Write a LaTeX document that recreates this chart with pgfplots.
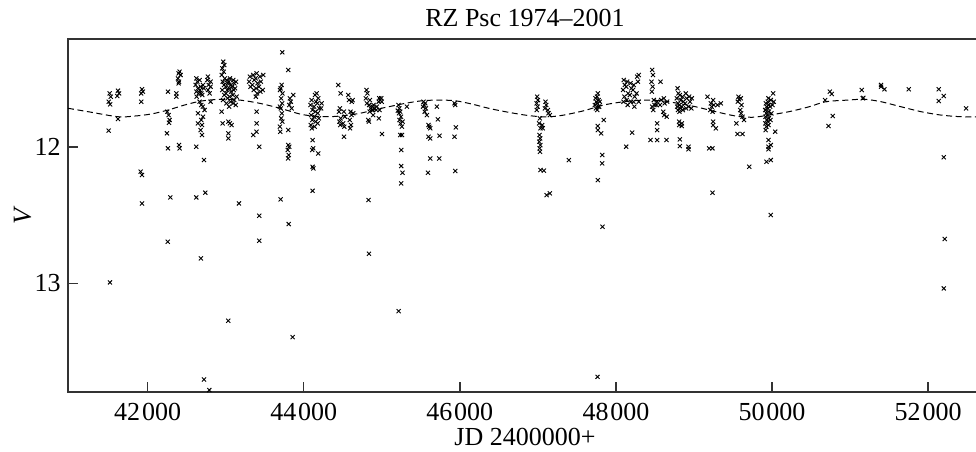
\documentclass[border=0pt]{standalone}
\usepackage{fontspec}
\setmainfont{Liberation Serif}
\usepackage{pgfplots}
\pgfplotsset{compat=1.18}
\pgfplotstableread{
JD V
41514 11.607
41528 11.631
41503 11.668
41520 11.687
41501 11.880
41620 11.587
41634 11.607
41611 11.626
41620 11.795
41928 11.577
41940 11.594
41918 11.607
41919 11.668
41911 12.181
41928 12.206
41928 12.414
42261 11.594
42252 11.741
42269 11.766
42282 11.802
42274 11.822
42248 11.900
42261 12.010
42291 12.370
42368 11.607
42368 11.631
42410 11.448
42397 11.460
42423 11.472
42389 11.497
42402 11.521
42397 11.533
42402 11.986
42410 12.010
42624 11.497
42637 11.521
42615 11.545
42645 11.570
42624 11.594
42654 11.607
42628 11.631
42666 11.509
42679 11.558
42671 11.582
42688 11.607
42666 11.668
42688 11.692
42709 11.545
42722 11.570
42700 11.619
42709 11.704
42730 11.729
42709 11.778
42688 11.802
42696 11.839
42679 11.876
42696 11.912
42773 11.484
42765 11.509
42782 11.545
42773 11.582
42794 11.607
42807 11.521
42807 11.558
42807 11.668
42645 11.753
42645 11.827
42722 12.096
42624 11.998
42739 12.335
42624 12.370
41518 12.993
42257 12.695
42683 12.817
42722 13.705
42790 13.783
43033 13.275
43430 12.688
43807 12.565
43858 13.394
44835 12.783
45216 13.204
47828 12.585
47764 13.686
52213 12.675
52200 13.037
42969 11.374
42983 11.399
42957 11.423
42975 11.448
42950 11.472
42988 11.497
42962 11.521
42978 11.545
42955 11.582
42982 11.619
42966 11.656
43012 11.509
43026 11.533
43000 11.558
43019 11.582
43004 11.607
43024 11.643
43010 11.680
43055 11.497
43041 11.521
43066 11.545
43048 11.570
43070 11.594
43050 11.631
43062 11.668
43044 11.704
43098 11.509
43112 11.533
43086 11.558
43104 11.582
43090 11.619
43110 11.656
43095 11.680
43132 11.521
43120 11.570
43140 11.631
43128 11.692
42948 11.741
42961 11.827
43034 11.814
43055 11.827
43076 11.839
43034 11.900
43034 11.937
43170 12.414
43311 11.484
43300 11.521
43318 11.558
43354 11.472
43366 11.509
43342 11.545
43360 11.582
43396 11.460
43384 11.497
43408 11.533
43390 11.570
43402 11.607
43386 11.631
43439 11.484
43451 11.521
43428 11.558
43445 11.594
43482 11.472
43476 11.582
43396 11.741
43396 11.827
43396 11.888
43354 11.912
43431 11.998
43431 12.504
43717 11.545
43705 11.570
43728 11.607
43710 11.643
43724 11.680
43706 11.717
43720 11.753
43712 11.790
43726 11.814
43695 11.582
43695 11.704
43695 11.851
43700 11.888
43802 11.876
43823 11.643
43835 11.668
43815 11.692
43866 11.619
43845 11.717
43802 11.986
43814 11.998
43796 12.022
43808 12.059
43800 12.084
43704 12.384
43725 11.306
43802 11.435
44101 11.656
44088 11.692
44112 11.729
44094 11.766
44108 11.802
44090 11.839
44104 11.863
44144 11.619
44156 11.668
44132 11.704
44150 11.741
44136 11.778
44152 11.814
44140 11.851
44186 11.643
44174 11.680
44198 11.717
44180 11.753
44194 11.790
44178 11.827
44229 11.680
44222 11.717
44165 11.607
44114 11.949
44122 12.010
44108 12.022
44186 12.047
44114 12.145
44124 12.157
44114 12.321
44442 11.545
44472 11.607
44464 11.717
44452 11.741
44474 11.790
44458 11.814
44468 11.839
44515 11.741
44527 11.778
44505 11.827
44520 11.851
44515 11.925
44571 11.619
44580 11.656
44626 11.656
44615 11.668
44600 11.741
44612 11.766
44590 11.802
44606 11.839
44594 11.863
44635 11.753
44805 11.582
44816 11.607
44796 11.643
44810 11.680
44848 11.656
44838 11.692
44858 11.717
44844 11.741
44882 11.704
44872 11.729
44890 11.766
44827 11.802
44836 11.814
44831 12.389
44895 11.692
44905 11.717
44888 11.729
44938 11.704
44930 11.729
44968 11.643
44978 11.656
44960 11.668
44972 11.729
44962 11.790
44993 11.643
45000 11.668
45002 11.905
45215 11.692
45225 11.717
45206 11.734
45220 11.753
45236 11.741
45246 11.778
45228 11.802
45240 11.827
45266 11.814
45258 11.851
45236 11.912
45258 11.912
45322 11.704
45249 12.022
45249 12.140
45266 12.189
45249 12.267
45535 11.668
45545 11.692
45528 11.704
45557 11.680
45566 11.717
45550 11.741
45578 11.766
45599 11.839
45608 11.851
45621 11.863
45599 11.925
45621 11.937
45706 11.704
45719 11.797
45621 12.084
45736 12.084
45591 12.189
45740 11.917
45932 11.680
45940 11.692
45949 11.856
45932 11.925
45941 12.176
46991 11.631
47001 11.656
46983 11.680
46996 11.704
46986 11.729
47025 11.790
47015 11.827
47034 11.863
47020 11.912
47030 11.937
47018 11.961
47032 11.986
47022 12.010
47028 12.035
47055 11.839
47062 11.863
47098 11.668
47108 11.692
47090 11.717
47128 11.729
47136 11.753
47153 11.766
47034 12.169
47077 12.174
47111 12.353
47153 12.340
47397 12.096
47738 11.643
47748 11.668
47730 11.692
47744 11.717
47768 11.607
47758 11.631
47778 11.656
47762 11.680
47774 11.704
47760 11.729
47794 11.668
47786 11.704
47845 11.802
47768 11.846
47768 11.876
47811 11.900
47824 12.059
47824 12.120
47768 12.243
48101 11.509
48114 11.545
48092 11.582
48108 11.631
48096 11.668
48144 11.521
48132 11.558
48156 11.607
48138 11.656
48150 11.692
48187 11.533
48198 11.570
48178 11.619
48192 11.668
48229 11.545
48218 11.582
48240 11.631
48224 11.668
48236 11.704
48272 11.484
48282 11.521
48264 11.607
48293 11.472
48293 11.668
48208 11.895
48131 11.998
48464 11.435
48474 11.472
48456 11.521
48470 11.558
48460 11.594
48485 11.656
48495 11.692
48478 11.729
48528 11.668
48520 11.692
48571 11.521
48580 11.656
48564 11.692
48614 11.643
48624 11.680
48606 11.741
48618 11.766
48656 11.668
48650 11.778
48528 11.827
48528 11.876
48443 11.949
48528 11.949
48648 11.949
48464 11.704
48789 11.570
48800 11.607
48780 11.643
48796 11.680
48784 11.704
48794 11.729
48819 11.619
48830 11.656
48810 11.692
48826 11.717
48814 11.741
48853 11.631
48864 11.668
48846 11.704
48858 11.729
48895 11.607
48906 11.643
48886 11.680
48900 11.717
48938 11.631
48948 11.668
48930 11.704
48972 11.643
48966 11.717
48810 11.814
48810 11.839
48844 11.827
48844 11.846
48819 11.944
48819 11.993
48930 11.998
48930 12.017
49173 11.631
49216 11.680
49226 11.704
49208 11.729
49245 11.656
49254 11.692
49238 11.741
49301 11.692
49344 11.680
49245 11.814
49245 11.839
49280 11.863
49194 12.010
49237 12.010
49237 12.335
49570 11.631
49578 11.651
49562 11.668
49600 11.643
49610 11.692
49592 11.729
49604 11.753
49621 11.778
49642 11.802
49544 11.827
49557 11.905
49621 11.905
49707 12.145
49920 11.680
49930 11.704
49912 11.729
49926 11.753
49916 11.778
49932 11.802
49914 11.827
49928 11.851
49918 11.876
49954 11.643
49944 11.668
49962 11.692
49948 11.717
49960 11.741
49942 11.766
49958 11.790
49946 11.814
49956 11.839
49984 11.656
49976 11.704
49992 11.753
49980 11.802
50014 11.607
50022 11.668
50006 11.692
50040 11.888
49954 11.949
49954 11.998
49954 12.017
49984 11.986
49929 12.108
49984 12.096
49984 12.499
50680 11.656
50723 11.846
50740 11.594
50765 11.611
50778 11.773
51150 11.582
51162 11.643
51170 11.640
51397 11.545
51397 11.558
51440 11.577
51752 11.577
52136 11.577
52200 11.626
52136 11.663
52486 11.717
52200 12.076
}\obs
\pgfplotstableread{
JD V
40980 11.716
41236 11.741
41620 11.778
41834 11.773
42047 11.758
42261 11.729
42475 11.692
42687 11.663
42943 11.650
43183 11.656
43439 11.680
43695 11.716
43951 11.758
44122 11.773
44293 11.778
44464 11.773
44720 11.753
44890 11.729
45088 11.705
45300 11.680
45514 11.661
45728 11.656
45941 11.661
46154 11.685
46368 11.716
46581 11.741
46837 11.766
47034 11.778
47162 11.778
47332 11.766
47589 11.734
47845 11.692
48101 11.668
48357 11.656
48613 11.663
48792 11.680
49023 11.705
49279 11.741
49535 11.773
49749 11.782
49962 11.766
50218 11.741
50475 11.705
50688 11.668
50970 11.656
51184 11.650
51397 11.668
51653 11.705
51909 11.741
52165 11.766
52421 11.778
52690 11.778
}\fit
\begin{document}
\fontsize{13}{15}\selectfont
\begin{tikzpicture}
\begin{axis}[
  scale only axis, width=457pt, height=176.5pt,
  xmin=40980, xmax=52690, ymin=11.208, ymax=13.797, y dir=reverse,
  xtick={42000,44000,...,52000}, ytick={12,13},
  scaled x ticks=false,
  /pgf/number format/1000 sep={\kern0.9pt},
  /pgf/number format/assume math mode=true,
  tick align=inside, xtick pos=bottom, ytick pos=left,
  major tick length=5pt,
  axis line style={line width=0.7pt, black!80},
  every tick/.style={line width=0.7pt, black!80},
  title={RZ Psc 1974--2001},
  every axis title shift=0pt,
  title style={at={(axis description cs:0.5,1)}, anchor=base, yshift=6.5pt, inner sep=0pt},
  xlabel={JD 2400000+},
  xlabel style={at={(axis description cs:0.5,0)}, anchor=base, yshift=-26.5pt, inner sep=0pt},
  ylabel={\textit{V}},
  ylabel style={at={(axis description cs:-0.0498,0.5)}, anchor=center, inner sep=0pt},
  xticklabel style={anchor=base, yshift=-14pt, inner sep=0pt},
  yticklabel style={anchor=east, xshift=-3.5pt, inner sep=0pt},
]
\addplot[only marks, mark=x, mark size=1.45pt, mark options={line width=0.45pt}, black] table[x=JD, y=V] {\obs};
\addplot[smooth, line width=0.5pt, dash pattern=on 3pt off 1.8pt, black] table[x=JD, y=V] {\fit};
\end{axis}
\pgfresetboundingbox
\path[use as bounding box] (current axis.south west) ++(-34pt,-29.5pt) rectangle ++(488pt,225.5pt);
\end{tikzpicture}
\end{document}
